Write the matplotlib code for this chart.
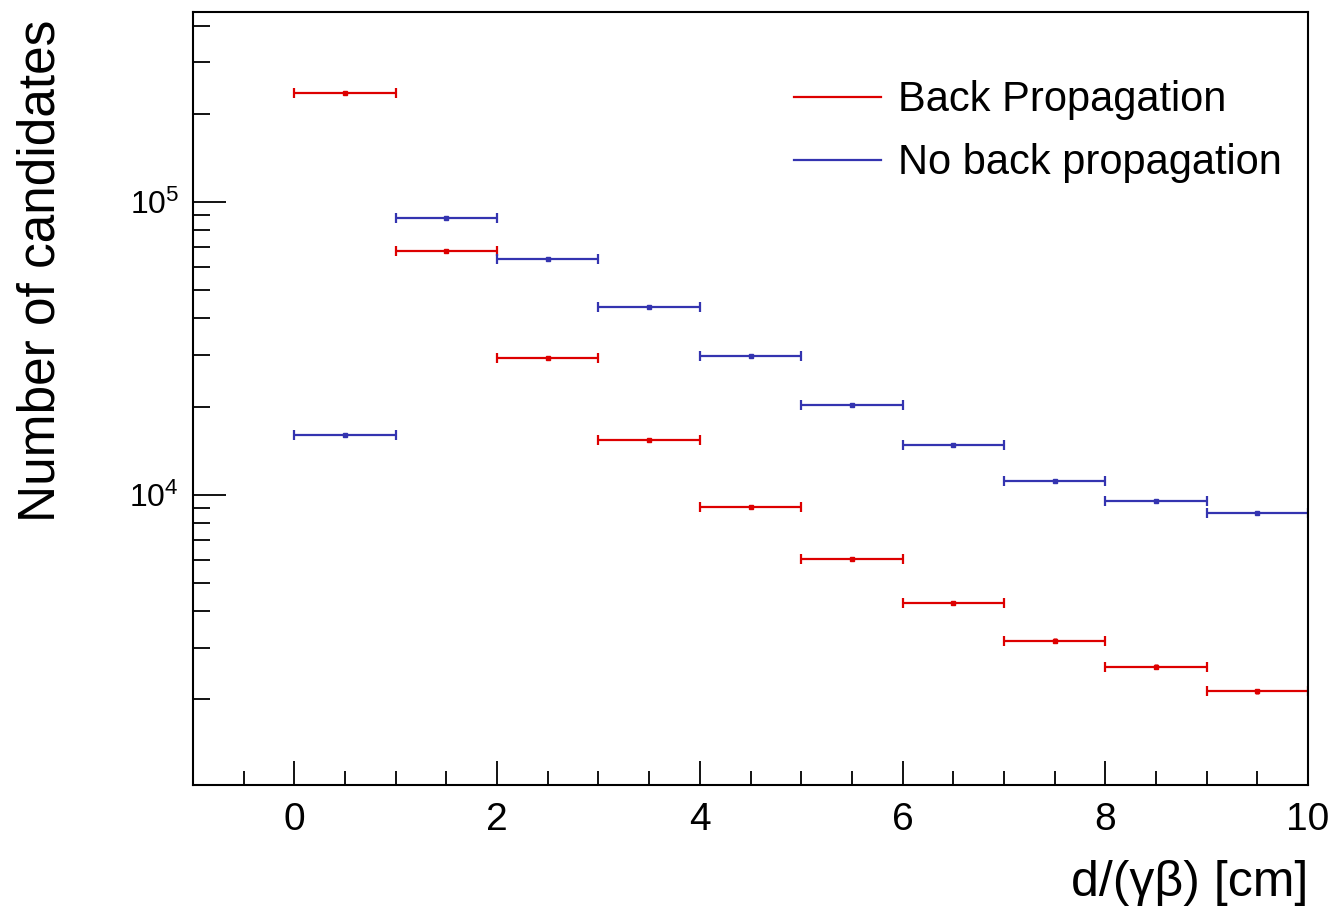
import numpy as np
import matplotlib
matplotlib.use("Agg")
import matplotlib.pyplot as plt
from matplotlib.ticker import LogLocator, MultipleLocator, NullFormatter, FixedLocator

plt.rcParams['font.family'] = ['Liberation Sans', 'DejaVu Sans']
plt.rcParams['mathtext.fontset'] = 'custom'
plt.rcParams['mathtext.rm'] = 'Liberation Sans'
plt.rcParams['mathtext.it'] = 'Liberation Sans:italic'

# bin edges in d/(gamma beta) [cm]
bin_lo = [0, 1, 2, 3, 4, 5, 6, 7, 8, 9]
bin_hi = [1, 2, 3, 4, 5, 6, 7, 8, 9, 10]

# counts
back_prop = [235600, 68100, 29350, 15400, 9100, 6050, 4280, 3175, 2590, 2130]
no_back_prop = [16030, 88200, 63900, 43800, 29800, 20300, 14800, 11150, 9540, 8680]

red = '#dd0000'
blue = '#3434b0'

lo = np.array(bin_lo, dtype=float)
hi = np.array(bin_hi, dtype=float)
xc = (lo + hi) / 2
xw = (hi - lo) / 2

fig = plt.figure(figsize=(13.43, 9.14), dpi=100)
ax = fig.add_axes([0.1437, 0.1411, 0.8303, 0.8458])

for vals, col, lab in [(back_prop, red, 'Back Propagation'),
                       (no_back_prop, blue, 'No back propagation')]:
    v = np.array(vals, dtype=float)
    ax.errorbar(xc, v, xerr=xw, fmt='none', ecolor=col, elinewidth=1.6,
                capsize=3.6, capthick=1.6)
    # statistical error, sqrt(N)
    ax.errorbar(xc, v, yerr=np.sqrt(v), fmt='s', color=col, ms=3.5,
                elinewidth=2.5, capsize=0)
    ax.plot([], [], color=col, lw=1.6, label=lab)

ax.set_yscale('log')
ax.set_xlim(-1, 10)
ax.set_ylim(1020, 445000)

ax.xaxis.set_major_locator(MultipleLocator(2))
ax.xaxis.set_minor_locator(MultipleLocator(0.5))
ax.yaxis.set_major_locator(FixedLocator([1e4, 1e5]))
ax.yaxis.set_minor_locator(LogLocator(base=10, subs=np.arange(2, 10)))
ax.yaxis.set_minor_formatter(NullFormatter())
ax.set_yticklabels([r'$10^{4}$', r'$10^{5}$'])

ax.tick_params(axis='x', which='major', direction='in', length=17, width=1.3,
               labelsize=28, pad=12, top=False)
ax.tick_params(axis='x', which='minor', direction='in', length=10, width=1.3, top=False)
ax.tick_params(axis='y', which='major', direction='in', length=24, width=1.3,
               labelsize=23, pad=10, right=False)
ax.tick_params(axis='y', which='minor', direction='in', length=12, width=1.3, right=False)
for s in ax.spines.values():
    s.set_linewidth(1.5)

ax.set_xlabel('d/(γβ) [cm]', fontsize=36, loc='right', labelpad=16)
ax.set_ylabel('Number of candidates', fontsize=37, loc='top', labelpad=46)
ax.yaxis.label.set_y(0.99)

ax.legend(loc='upper left', bbox_to_anchor=(0.505, 0.96), frameon=False,
          fontsize=30, handlelength=2.1, handletextpad=0.4, labelspacing=0.55)

plt.savefig('out.png', dpi=100)
